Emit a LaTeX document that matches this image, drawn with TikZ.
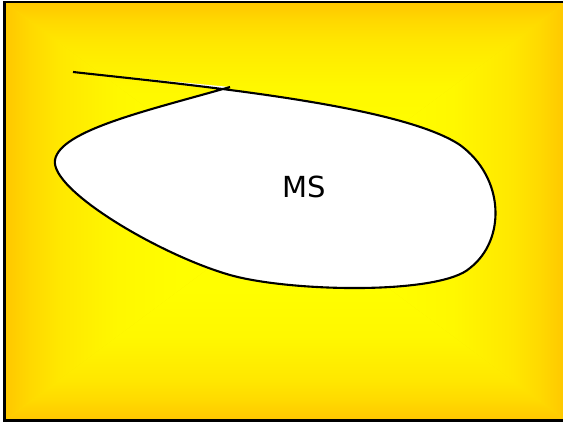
\documentclass[tikz,border=0pt]{standalone}
\usepackage{fontspec}
\newfontfamily\msfont{DejaVu Sans}
\pgfdeclarehorizontalshading{edgeh}{100bp}{rgb(0bp)=(1,0.78,0); rgb(25bp)=(1,0.78,0); rgb(30bp)=(1,0.856,0); rgb(35bp)=(1,0.91,0); rgb(45bp)=(1,0.971,0); rgb(55bp)=(1,0.994,0); rgb(75bp)=(1,1,0); rgb(100bp)=(1,1,0)}
\pgfdeclareverticalshading{edgev}{100bp}{rgb(0bp)=(1,0.78,0); rgb(25bp)=(1,0.78,0); rgb(30bp)=(1,0.856,0); rgb(35bp)=(1,0.91,0); rgb(45bp)=(1,0.971,0); rgb(55bp)=(1,0.994,0); rgb(75bp)=(1,1,0); rgb(100bp)=(1,1,0)}
\tikzset{
  frame/.style={draw=black, line width=2.4pt},
  blob/.style={draw=black, fill=white, line width=2.1pt},
  lbl/.style={font=\msfont\fontsize{29}{32}\selectfont, inner sep=0pt}
}
\begin{document}
\begin{tikzpicture}[x=1pt, y=-1pt]
\useasboundingbox (0,0) rectangle (563,422);
\coordinate (A) at (4.5,2);
\coordinate (B) at (566,2);
\coordinate (C) at (566,420.5);
\coordinate (D) at (4.5,420.5);
\coordinate (O) at (285.25,211.25);
\fill[yellow!90!orange] (A) rectangle (C);
\shade[shading=edgeh] (A) -- (D) -- (O) -- cycle;
\shade[shading=edgeh, shading angle=180] (B) -- (C) -- (O) -- cycle;
\shade[shading=edgev] (D) -- (C) -- (O) -- cycle;
\shade[shading=edgev, shading angle=180] (A) -- (B) -- (O) -- cycle;
\draw[frame] (A) rectangle (C);
\path[blob] (73,72) .. controls (200,86) and (400,105) .. (460,145)
  .. controls (505,178) and (506,240) .. (470,268)
  .. controls (440,295) and (290,292) .. (230,275)
  .. controls (160,255) and (50,190) .. (55,160)
  .. controls (60,130) and (150,110) .. (230,87);
\node[lbl] (ms) at (304,187) {MS};
\end{tikzpicture}
\end{document}
